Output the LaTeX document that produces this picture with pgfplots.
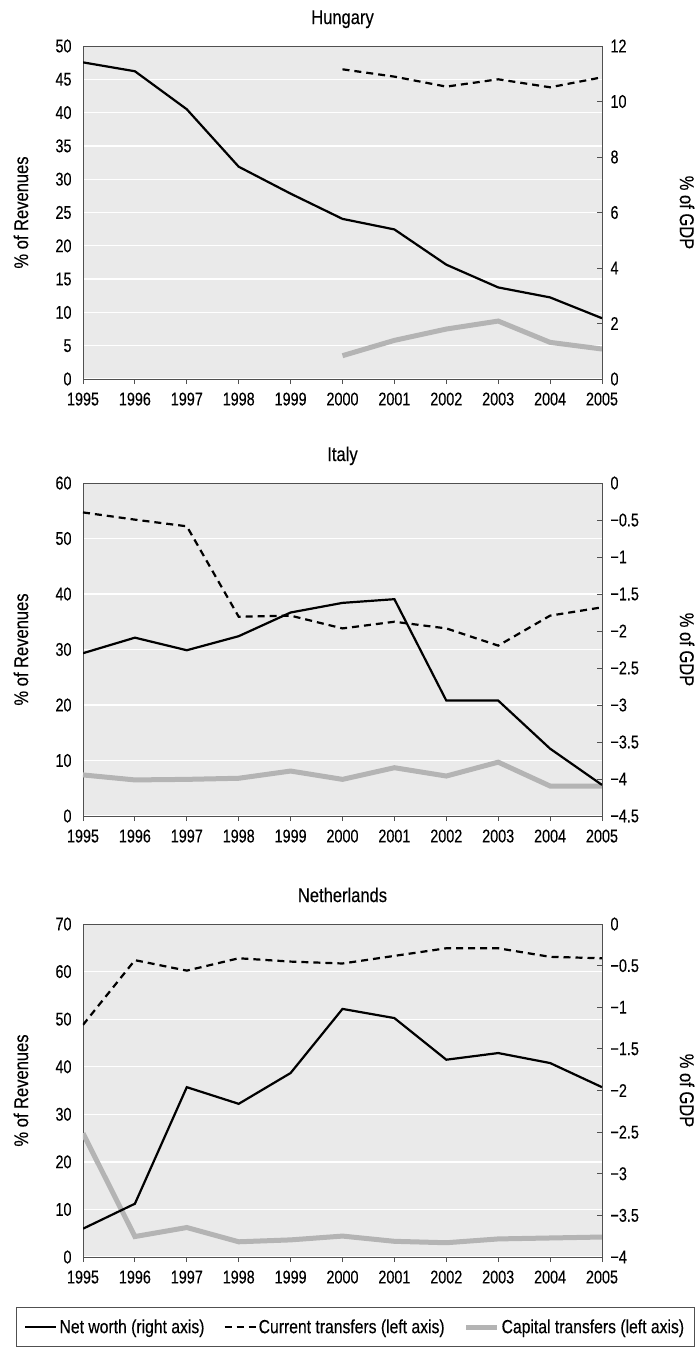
\documentclass[border=0pt]{standalone}
\usepackage{fontspec}
\setmainfont{Liberation Sans}[FakeStretch=0.83,FakeBold=0.3]
\newfontfamily\tickfont{Liberation Sans}[FakeStretch=0.78,FakeBold=0.2]
\usepackage{pgfplots}
\pgfplotsset{compat=1.18}
\definecolor{bgc}{RGB}{234,234,234}
\definecolor{capc}{RGB}{180,180,180}
\definecolor{framec}{RGB}{80,80,80}
\pgfplotsset{
  base/.style={width=519bp,height=333bp,scale only axis,xmin=1995,xmax=2005,anchor=north west,
    label style={font=\fontsize{20}{23}\selectfont},
    title style={font=\fontsize{20}{23}\selectfont},
    tick label style={font=\tickfont\fontsize{18.5}{21}\selectfont},
    /pgf/number format/assume math mode=true},
  leftax/.style={base,
    xtick={1995,1996,1997,1998,1999,2000,2001,2002,2003,2004,2005},
    xticklabels={1995,1996,1997,1998,1999,2000,2001,2002,2003,2004,2005},
    xticklabel style={yshift=-5bp},
    yticklabel style={xshift=-3bp},
    axis background/.style={fill=bgc},
    ymajorgrids, grid style={white,line width=1.3bp},
    axis line style={framec,line width=0.8bp},
    xtick pos=left, ytick pos=left, ytick style={draw=none},
    xtick style={framec,line width=0.8bp}, tick align=outside, major tick length=5bp,
    ymin=0,
    ylabel={\% of Revenues},
    ylabel style={at={(axis description cs:-0.1195,0.5)},anchor=center},
    title style={at={(0.5,1)},anchor=base,yshift=16bp},
  },
  rightax/.style={base, axis y line*=right, axis x line=none, xtick=\empty,
    ytick pos=right, tick align=inside, major tick length=5bp,
    ytick style={framec,line width=0.8bp},
    axis line style={framec,line width=0.8bp},
    ylabel={\% of GDP},
    ylabel style={at={(axis description cs:1.1638,0.5)},anchor=center,rotate=180},
    yticklabel style={anchor=west,xshift=5bp}},
  netw/.style={black,line width=2.2bp},
  curt/.style={black,line width=2.2bp,dash pattern=on 7bp off 5bp},
  capt/.style={capc,line width=5bp},
}
\begin{document}
\begin{tikzpicture}
\path[use as bounding box] (-83bp,46bp) rectangle (616bp,-1307bp);
% ---------------- Hungary
\begin{axis}[leftax, at={(0bp,0bp)}, title={Hungary}, ymax=50, ytick={0,5,...,50}]
\addplot[curt] coordinates {(2000,46.5) (2001,45.4) (2002,43.9) (2003,45.0) (2004,43.8) (2005,45.3)};
\addplot[capt] coordinates {(2000,3.5) (2001,5.8) (2002,7.5) (2003,8.7) (2004,5.5) (2005,4.5)};
\end{axis}
\begin{axis}[rightax, at={(0bp,0bp)}, ymin=0, ymax=12, ytick={0,2,4,6,8,10,12},
  yticklabels={0,2,4,6,8,10,12}]
\addplot[netw] coordinates {(1995,11.41) (1996,11.09) (1997,9.72) (1998,7.65) (1999,6.68) (2000,5.77) (2001,5.39) (2002,4.12) (2003,3.30) (2004,2.94) (2005,2.19)};
\end{axis}
% ---------------- Italy
\begin{axis}[leftax, at={(0bp,-437bp)}, title={Italy}, ymax=60, ytick={0,10,...,60}]
\addplot[curt] coordinates {(1995,54.7) (1996,53.4) (1997,52.2) (1998,35.9) (1999,36.1) (2000,33.8) (2001,35.0) (2002,33.8) (2003,30.7) (2004,36.1) (2005,37.6)};
\addplot[capt] coordinates {(1995,7.4) (1996,6.5) (1997,6.6) (1998,6.8) (1999,8.1) (2000,6.6) (2001,8.7) (2002,7.2) (2003,9.7) (2004,5.4) (2005,5.4)};
\end{axis}
\begin{axis}[rightax, at={(0bp,-437bp)}, ymin=-4.5, ymax=0, ytick={-4.5,-4,-3.5,-3,-2.5,-2,-1.5,-1,-0.5,0},
  yticklabels={−4.5,−4,−3.5,−3,−2.5,−2,−1.5,−1,−0.5,0}]
\addplot[netw] coordinates {(1995,-2.30) (1996,-2.09) (1997,-2.26) (1998,-2.07) (1999,-1.75) (2000,-1.62) (2001,-1.57) (2002,-2.94) (2003,-2.94) (2004,-3.59) (2005,-4.08)};
\end{axis}
% ---------------- Netherlands
\begin{axis}[leftax, at={(0bp,-878bp)}, title={Netherlands}, ymax=70, ytick={0,10,...,70},
  legend columns=3,
  legend style={at={(axis description cs:-0.1291,-0.1502)},anchor=north west,
    draw=framec, line width=0.8bp, font=\fontsize{19}{22}\selectfont,
    inner xsep=8bp, inner ysep=10bp,
    /tikz/every even column/.append style={column sep=17bp}},
  legend image code/.code={\draw[#1] (0bp,0bp) -- (31bp,0bp);}]
\addlegendimage{netw}
\addlegendentry{Net worth (right axis)}
\addplot[curt] coordinates {(1995,48.8) (1996,62.4) (1997,60.2) (1998,62.8) (1999,62.1) (2000,61.7) (2001,63.3) (2002,64.9) (2003,64.9) (2004,63.1) (2005,62.8)};
\addlegendentry{Current transfers (left axis)}
\addplot[capt] coordinates {(1995,26.0) (1996,4.3) (1997,6.2) (1998,3.2) (1999,3.6) (2000,4.4) (2001,3.3) (2002,3.0) (2003,3.8) (2004,4.0) (2005,4.2)};
\addlegendentry{Capital transfers (left axis)}
\end{axis}
\begin{axis}[rightax, at={(0bp,-878bp)}, ymin=-4, ymax=0, ytick={-4,-3.5,-3,-2.5,-2,-1.5,-1,-0.5,0},
  yticklabels={−4,−3.5,−3,−2.5,−2,−1.5,−1,−0.5,0}]
\addplot[netw] coordinates {(1995,-3.66) (1996,-3.36) (1997,-1.96) (1998,-2.16) (1999,-1.79) (2000,-1.02) (2001,-1.13) (2002,-1.63) (2003,-1.55) (2004,-1.67) (2005,-1.96)};
\end{axis}
\end{tikzpicture}
\end{document}
